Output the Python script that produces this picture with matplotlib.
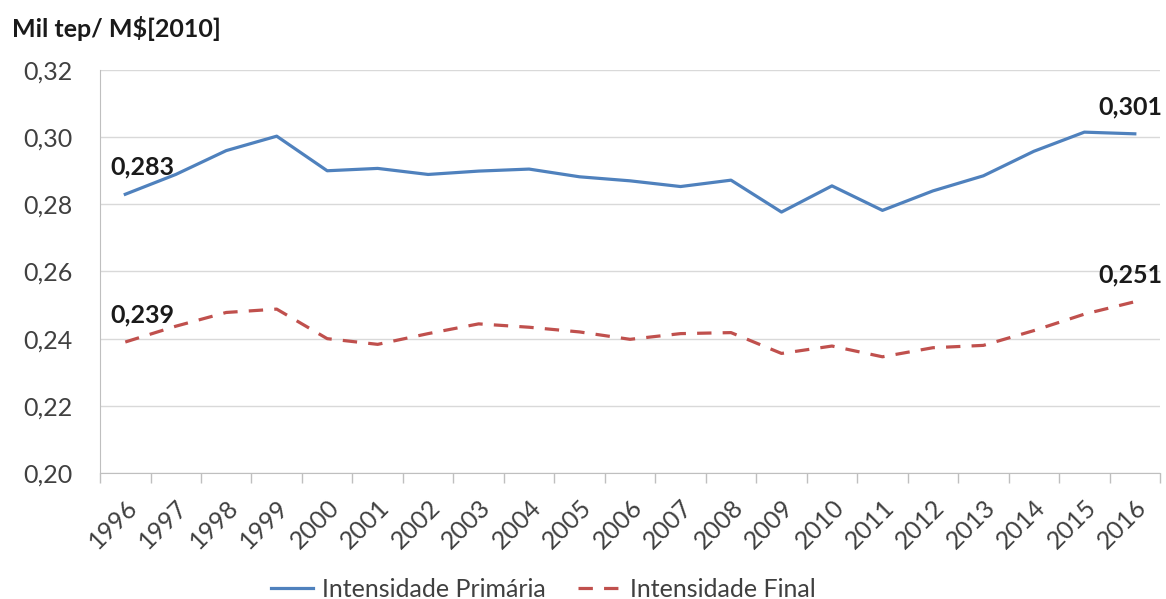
import matplotlib.pyplot as plt
import numpy as np

years = list(range(1996, 2017))
intensidade_primaria = [0.283, 0.2889, 0.2960, 0.3003, 0.2900, 0.2907, 0.2889, 0.2899, 0.2905, 0.2882,
                        0.2870, 0.2853, 0.2872, 0.2777, 0.2855, 0.2782, 0.2840, 0.2885, 0.2958, 0.3015, 0.301]
intensidade_final = [0.239, 0.2437, 0.2478, 0.2488, 0.2400, 0.2383, 0.2415, 0.2444, 0.2434, 0.2420,
                     0.2398, 0.2415, 0.2418, 0.2356, 0.2378, 0.2346, 0.2373, 0.2380, 0.2424, 0.2473, 0.251]
y_ticks = [0.20, 0.22, 0.24, 0.26, 0.28, 0.30, 0.32]

plt.rcParams['font.family'] = ['Lato', 'DejaVu Sans']

blue = '#4f81bd'
red = '#c0504d'
grid_c = '#d9d9d9'
FS = 18

fig = plt.figure(figsize=(11.66, 5.99), dpi=100)
ax = fig.add_axes([0.0858, 0.2104, 0.9091, 0.6727])

x = np.arange(len(years))
ax.plot(x, intensidade_primaria, color=blue, lw=2.3, label='Intensidade Primária')
ax.plot(x, intensidade_final, color=red, lw=2.3, dashes=(4.5, 3.5), label='Intensidade Final')

ax.set_xlim(-0.5, len(years) - 0.5)
ax.set_ylim(0.20, 0.32)
ax.set_yticks(y_ticks)
ax.set_yticklabels([f'{v:.2f}'.replace('.', ',') for v in y_ticks], fontsize=FS, color='#404040')
ax.tick_params(axis='y', length=0, pad=20)

ax.set_xticks(x)
ax.set_xticklabels([str(y) for y in years], rotation=45, ha='right', rotation_mode='anchor',
                   fontsize=FS, color='#404040')
ax.tick_params(axis='x', which='major', length=0, pad=16)
ax.set_xticks(np.arange(-0.5, len(years)), minor=True)
ax.tick_params(axis='x', which='minor', length=7, color='#bfbfbf', width=1)

ax.grid(axis='y', color=grid_c, lw=1)
ax.set_axisbelow(True)
for side in ['top', 'right']:
    ax.spines[side].set_visible(False)
ax.spines['left'].set_color('#bfbfbf')
ax.spines['bottom'].set_color('#bfbfbf')

# value labels on first and last points
def label_point(i, series, dx, dy):
    ax.annotate(f'{series[i]:.3f}'.replace('.', ','), (x[i], series[i]), xytext=(dx, dy),
                textcoords='offset points', ha='center', va='center',
                fontsize=FS, fontweight='bold', color='#1a1a1a')

label_point(0, intensidade_primaria, 12, 19.5)
label_point(0, intensidade_final, 12, 19.5)
label_point(len(years) - 1, intensidade_primaria, -3, 19.5)
label_point(len(years) - 1, intensidade_final, -3, 19.5)

fig.text(0.010, 0.953, 'Mil tep/ M$[2010]', fontsize=FS, fontweight='bold', color='#1a1a1a', va='center')

fig.legend(loc='center', bbox_to_anchor=(0.4657, 0.016), ncol=2, frameon=False, fontsize=FS,
           handlelength=1.7, columnspacing=1.3, handletextpad=0.35, labelcolor='#404040')

fig.savefig('out.png', dpi=100)
